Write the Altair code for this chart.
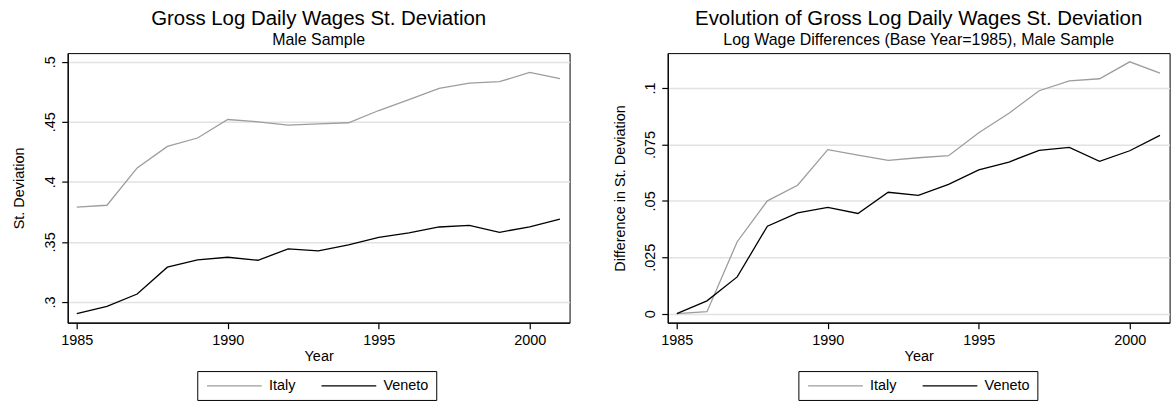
import altair as alt
import pandas as pd

# ---- data ----
years = list(range(1985, 2002))
italy_sd = [0.3790, 0.3805, 0.4116, 0.4295, 0.4365, 0.4519, 0.4500, 0.4473, 0.4483,
            0.4492, 0.4594, 0.4685, 0.4779, 0.4823, 0.4834, 0.4912, 0.4860]
veneto_sd = [0.2902, 0.2963, 0.3066, 0.3289, 0.3350, 0.3372, 0.3347, 0.3441, 0.3425,
             0.3474, 0.3538, 0.3574, 0.3624, 0.3638, 0.3580, 0.3624, 0.3690]
italy_diff = [0.0000, 0.0009, 0.0319, 0.0500, 0.0569, 0.0727, 0.0703, 0.0679, 0.0691,
              0.0700, 0.0802, 0.0888, 0.0988, 0.1032, 0.1041, 0.1116, 0.1066]
veneto_diff = [0.0000, 0.0057, 0.0163, 0.0388, 0.0447, 0.0471, 0.0444, 0.0538, 0.0524,
               0.0573, 0.0637, 0.0672, 0.0724, 0.0737, 0.0675, 0.0722, 0.0790]

regions = ["Italy", "Veneto"]
region_colors = ["#9d9d9d", "#000000"]

x_ticks = [1985, 1990, 1995, 2000]
left_y_ticks = [0.3, 0.35, 0.4, 0.45, 0.5]
right_y_ticks = [0, 0.025, 0.05, 0.075, 0.1]

left_title = "Gross Log Daily Wages St. Deviation"
left_subtitle = "Male Sample"
right_title = "Evolution of Gross Log Daily Wages St. Deviation"
right_subtitle = "Log Wage Differences (Base Year=1985), Male Sample"

FONT = "Liberation Sans"
# long horizontal legend key: custom path scaled by sqrt(symbolSize)/2 = 4
LEGEND_KEY = "M-1.25,0H12.5"


def to_long(it, ve):
    return pd.DataFrame({
        "Year": years + years,
        "value": it + ve,
        "Region": [regions[0]] * len(years) + [regions[1]] * len(years),
    })


def panel(df, title, subtitle, ytitle, yticks, ydomain, ytitle_x, legend_x):
    color = alt.Color(
        "Region:N",
        scale=alt.Scale(domain=regions, range=region_colors),
        legend=alt.Legend(
            orient="none", legendX=legend_x, legendY=319.3, direction="horizontal",
            title=None, symbolType=LEGEND_KEY, symbolSize=64, symbolStrokeWidth=1.3,
            labelFont=FONT, labelFontSize=14.5, labelColor="black", labelOffset=50,
            columnPadding=22, padding=7.5, strokeColor="black", fillColor="white",
        ),
    )
    return alt.Chart(df).mark_line(strokeWidth=1.3).encode(
        x=alt.X(
            "Year:Q",
            scale=alt.Scale(domain=[1984.7, 2001.32], nice=False, zero=False),
            axis=alt.Axis(values=x_ticks, format="d", title="Year", grid=False,
                          tickSize=6, labelPadding=16, labelBaseline="alphabetic",
                          labelFlush=False, titleY=37.5, titleBaseline="alphabetic"),
        ),
        y=alt.Y(
            "value:Q",
            scale=alt.Scale(domain=ydomain, nice=False, zero=False),
            axis=alt.Axis(values=yticks, title=ytitle, grid=True, tickSize=6,
                          labelExpr="datum.value == 0 ? '0' : replace(format(datum.value, ''), '0.', '.')",
                          labelAngle=270, labelAlign="center", labelBaseline="alphabetic",
                          labelPadding=7, titleX=ytitle_x, titleY=135.35,
                          titleAngle=270, titleAlign="center", titleBaseline="alphabetic"),
        ),
        color=color,
    ).properties(
        width=504, height=270.7,
        title=alt.TitleParams(text=title, subtitle=subtitle, fontSize=20.5,
                              subtitleFontSize=16, font=FONT, subtitleFont=FONT,
                              anchor="middle", color="black", subtitleColor="black",
                              fontWeight="normal", offset=5, subtitlePadding=3),
    )


left = panel(to_long(italy_sd, veneto_sd), left_title, left_subtitle, "St. Deviation",
             left_y_ticks, [0.2827, 0.5072], -44.7, 130.1)
right = panel(to_long(italy_diff, veneto_diff), right_title, right_subtitle,
              "Difference in St. Deviation", right_y_ticks, [-0.00397, 0.11545], -43.4, 131.2)

chart = alt.hconcat(left, right, spacing=98.6, bounds="flush").resolve_scale(
    color="independent"
).properties(
    padding={"left": 10, "top": 7.5, "right": 0, "bottom": 0},
    background="white",
).configure_view(
    stroke="black", strokeWidth=1
).configure_axis(
    domainColor="black", domainWidth=1.2, tickColor="black", tickWidth=1.2,
    labelColor="black", titleColor="black", labelFont=FONT, titleFont=FONT,
    labelFontSize=14.5, titleFontSize=14.5, titleFontWeight="normal",
    gridColor="#e2e2e2", gridWidth=1.5,
)

chart.save("out.html", embed_options={"renderer": "svg", "actions": False})
